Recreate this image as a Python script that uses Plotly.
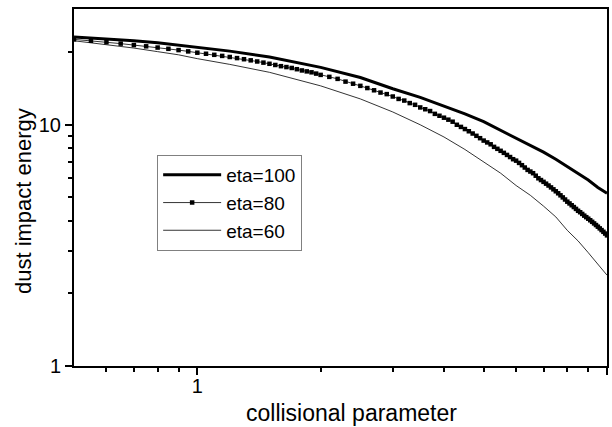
import plotly.graph_objects as go

# collisional parameter grid for the solid curves
x_main = [0.5, 0.6, 0.7, 0.8, 0.9, 1.0, 1.2, 1.5, 2.0, 2.5, 3.0, 3.5, 4.0, 4.5,
          5.0, 5.5, 6.0, 6.5, 7.0, 7.5, 8.0, 8.5, 9.0, 9.5, 10.0]

eta100 = [23.1, 22.7, 22.3, 21.9, 21.4, 20.9, 20.2, 19.1, 17.3, 15.7, 14.1, 13.0,
          12.0, 11.1, 10.3, 9.5, 8.8, 8.2, 7.7, 7.2, 6.7, 6.3, 5.9, 5.5, 5.2]

eta60 = [22.3, 21.5, 20.8, 20.1, 19.5, 18.8, 17.8, 16.5, 14.5, 12.8, 11.3, 10.0,
         8.9, 7.9, 7.0, 6.3, 5.6, 5.1, 4.6, 4.15, 3.65, 3.3, 2.95, 2.65, 2.38]

# eta=80 series is drawn with dense square symbols
x_80 = ([0.5, 0.55, 0.6, 0.65, 0.7, 0.75, 0.8, 0.85, 0.9, 0.95,
         1.0, 1.05, 1.1, 1.15, 1.2, 1.25, 1.3, 1.35, 1.4, 1.45,
         1.5, 1.55, 1.6, 1.65, 1.7, 1.75, 1.8, 1.85, 1.9, 1.95]
        + [round(2.0 + 0.1 * i, 1) for i in range(81)])
eta80 = [22.6, 22.3, 22.0, 21.7, 21.4, 21.15, 20.9, 20.65, 20.4, 20.15,
         19.9, 19.7, 19.5, 19.3, 19.1, 18.9, 18.7, 18.5, 18.3, 18.1,
         17.9, 17.7, 17.5, 17.35, 17.2, 17.0, 16.8, 16.65, 16.5, 16.3,
         16.1, 15.8, 15.5, 15.1, 14.8,
         14.5, 14.2, 13.9, 13.6, 13.4, 13.1, 12.8, 12.6, 12.3, 12.1,
         11.8, 11.6, 11.4, 11.1, 10.9, 10.7, 10.5, 10.3, 10.0, 9.8,
         9.6, 9.4, 9.2, 9.0, 8.8, 8.6, 8.45, 8.3, 8.1, 7.95,
         7.8, 7.65, 7.5, 7.35, 7.2, 7.1, 6.95, 6.8, 6.65, 6.5,
         6.4, 6.3, 6.15, 6.0, 5.9, 5.8, 5.7, 5.6, 5.5, 5.4,
         5.3, 5.2, 5.1, 5.0, 4.9, 4.8, 4.72, 4.64, 4.56, 4.48,
         4.4, 4.34, 4.27, 4.2, 4.14, 4.08, 4.02, 3.96, 3.9, 3.84,
         3.78, 3.72, 3.66, 3.6, 3.54, 3.48]

x_major = [1, 10]
x_minor = [0.6, 0.7, 0.8, 0.9, 2, 3, 4, 5, 6, 7, 8, 9]
y_major = [1, 10]
y_minor = [2, 3, 4, 5, 6, 7, 8, 9, 20]

x_title = "collisional parameter"
y_title = "dust impact energy"

FONT = "Liberation Sans, Arial, sans-serif"

fig = go.Figure()
fig.add_trace(go.Scatter(x=x_main, y=eta100, mode="lines", name="eta=100",
                         line=dict(color="black", width=3)))
fig.add_trace(go.Scatter(x=x_80, y=eta80, mode="lines+markers", name="eta=80",
                         line=dict(color="black", width=0.8),
                         marker=dict(symbol="square", size=4.5, color="black")))
fig.add_trace(go.Scatter(x=x_main, y=eta60, mode="lines", name="eta=60",
                         line=dict(color="black", width=0.8)))

axis_common = dict(
    type="log", showgrid=False, zeroline=False, showline=True, mirror=True,
    linecolor="black", linewidth=2, ticks="outside", ticklen=7, tickwidth=1.5,
    tickcolor="black", tickfont=dict(family=FONT, size=20, color="black"),
)

fig.update_xaxes(**axis_common, range=[-0.30103, 1.0], tickmode="array",
                 tickvals=x_major, ticktext=["1", "10"], ticklabelstandoff=-6,
                 minor=dict(tickmode="array", tickvals=x_minor, ticks="outside",
                            ticklen=4, tickwidth=1.5, tickcolor="black"))
fig.update_yaxes(**axis_common, range=[0, 1.48], tickmode="array",
                 tickvals=y_major, ticktext=["1", "10"],
                 minor=dict(tickmode="array", tickvals=y_minor, ticks="outside",
                            ticklen=4, tickwidth=1.5, tickcolor="black"))

# axis titles (placed as in the original, slightly off-centre)
fig.add_annotation(text=x_title, xref="paper", yref="paper", x=0.5197, y=-0.1317,
                   xanchor="center", yanchor="middle", showarrow=False,
                   font=dict(family=FONT, size=23, color="black"))
fig.add_annotation(text=y_title, xref="paper", yref="paper", x=-0.0957, y=0.462,
                   xanchor="center", yanchor="middle", showarrow=False, textangle=-90,
                   font=dict(family=FONT, size=22, color="black"))

fig.update_layout(
    width=612, height=427,
    margin=dict(l=74, r=5, t=9, b=61, autoexpand=False),
    paper_bgcolor="white", plot_bgcolor="white",
    showlegend=True,
    legend=dict(x=0.156, y=0.591, xanchor="left", yanchor="top",
                bgcolor="white", bordercolor="#808080", borderwidth=1,
                font=dict(family=FONT, size=19, color="black"),
                itemwidth=58, entrywidth=150, tracegroupgap=0),
)

fig.write_html("out.html")
